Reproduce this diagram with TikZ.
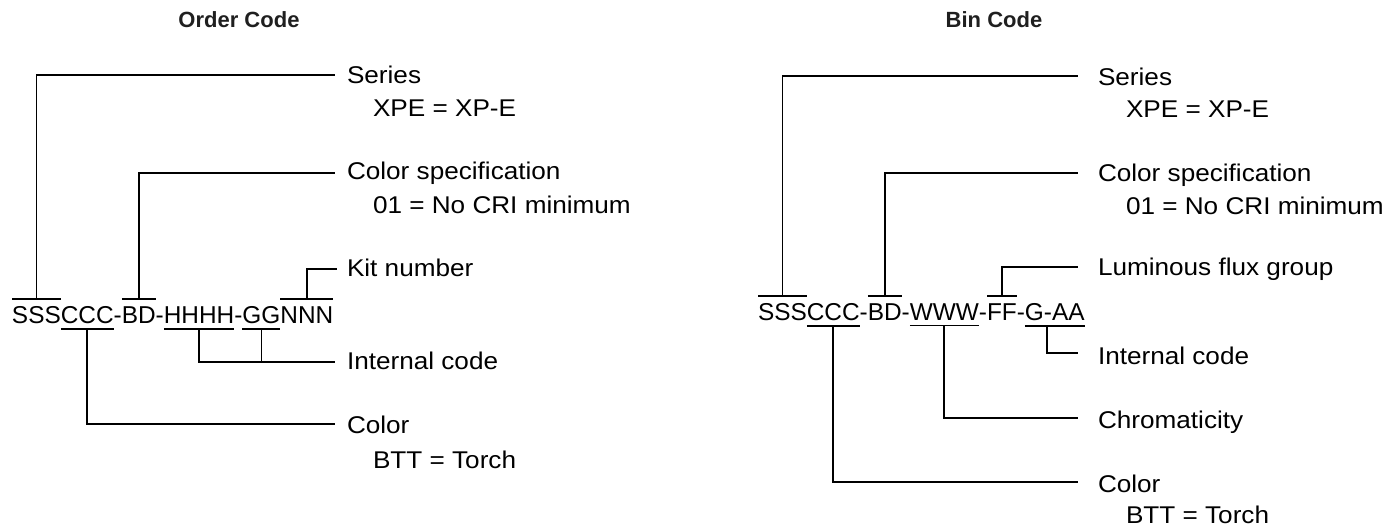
\documentclass[tikz,border=0pt]{standalone}
\usepackage{fontspec}
\setmainfont{Liberation Sans}
\newfontfamily\lblfamily[FakeStretch=1.08]{Liberation Sans}
\usetikzlibrary{calc}
\newcommand{\codefnt}{\fontsize{24.4}{29}\selectfont}
\newcommand{\lblfnt}{\lblfamily\fontsize{24.2}{29}\selectfont}
\begin{document}
\begin{tikzpicture}[x=1pt,y=-1pt,
  codetxt/.style={inner sep=0pt, outer sep=0pt, anchor=base west, font=\codefnt, text=black},
  lbl/.style={inner sep=0pt, outer sep=0pt, anchor=base west, font=\lblfnt, text=black},
  ttl/.style={inner sep=0pt, font=\bfseries\fontsize{22}{26}\selectfont, text={black!88}},
  conn/.style={line width=1.8pt, line cap=butt},
  bar/.style={line width=1.8pt}]
\useasboundingbox (0,0) rectangle (1398,529);

% ---------------- Titles
\node[ttl] (tL) at (239,20) {Order Code};
\node[ttl] (tR) at (994,20) {Bin Code};

% ---------------- Left code
\node[codetxt] (L1) at (12,324) {SSS};
\node[codetxt] (L2) at (L1.base east) {CCC};
\node[codetxt] (L3) at (L2.base east) {-};
\node[codetxt] (L4) at (L3.base east) {BD};
\node[codetxt] (L5) at (L4.base east) {-};
\node[codetxt] (L6) at (L5.base east) {HHHH};
\node[codetxt] (L7) at (L6.base east) {-};
\node[codetxt] (L8) at (L7.base east) {GG};
\node[codetxt] (L9) at (L8.base east) {NNN};

% left labels
\node[lbl] (lSer) at (347,84) {Series};
\node[lbl] (lSerV) at (373,117) {XPE = XP-E};
\node[lbl] (lCS) at (347,180) {Color specification};
\node[lbl] (lCSV) at (373,214) {01 = No CRI minimum};
\node[lbl] (lKit) at (347,277) {Kit number};
\node[lbl] (lInt) at (347,370) {Internal code};
\node[lbl] (lCol) at (347,433) {Color};
\node[lbl] (lColV) at (373,468) {BTT = Torch};

% left connector end points
\coordinate (eSerL) at ([xshift=-12pt,yshift=9pt]lSer.base west);
\coordinate (eCSL)  at ([xshift=-12pt,yshift=7pt]lCS.base west);
\coordinate (eKitL) at ([xshift=-10pt,yshift=8pt]lKit.base west);
\coordinate (eIntL) at ([xshift=-12pt,yshift=8pt]lInt.base west);
\coordinate (eColL) at ([xshift=-12pt,yshift=9pt]lCol.base west);

% left bars (over) and underlines
\draw[bar] ([yshift=8pt]L1.north west) -- ([yshift=8pt]L1.north east);
\draw[bar] ([yshift=8pt]L4.north west) -- ([yshift=8pt]L4.north east);
\draw[bar] ([yshift=8pt]L9.north west) -- ([yshift=8pt]L9.north east);
\draw[bar] ([yshift=-5pt]L2.south west) -- ([yshift=-5pt]L2.south east);
\draw[bar] ([yshift=-5pt]L6.south west) -- ([yshift=-5pt]L6.south east);
\draw[bar] ([yshift=-5pt]L8.south west) -- ([yshift=-5pt]L8.south east);

% left connectors
\coordinate (uL8) at ([yshift=-5pt]L8.south);
\draw[conn] ([yshift=8pt]L1.north) |- (eSerL);
\draw[conn] ([yshift=8pt]L4.north) |- (eCSL);
\draw[conn] ([yshift=8pt]L9.north) |- (eKitL);
\draw[conn] ([yshift=-5pt]L6.south) |- (eIntL);
\draw[conn] (uL8) -- (uL8 |- eIntL);
\draw[conn] ([yshift=-5pt]L2.south) |- (eColL);

% ---------------- Right code
\node[codetxt] (R1) at (758,321) {SSS};
\node[codetxt] (R2) at (R1.base east) {CCC};
\node[codetxt] (R3) at (R2.base east) {-};
\node[codetxt] (R4) at (R3.base east) {BD};
\node[codetxt] (R5) at (R4.base east) {-};
\node[codetxt] (R6) at (R5.base east) {WWW};
\node[codetxt] (R7) at (R6.base east) {-};
\node[codetxt] (R8) at (R7.base east) {FF};
\node[codetxt] (R9) at (R8.base east) {-};
\node[codetxt] (R10) at (R9.base east) {G-AA};

% right labels
\node[lbl] (rSer) at (1098,86) {Series};
\node[lbl] (rSerV) at (1126,118) {XPE = XP-E};
\node[lbl] (rCS) at (1098,181.5) {Color specification};
\node[lbl] (rCSV) at (1126,215) {01 = No CRI minimum};
\node[lbl] (rLum) at (1098,276) {Luminous flux group};
\node[lbl] (rInt) at (1098,364) {Internal code};
\node[lbl] (rChr) at (1098,428) {Chromaticity};
\node[lbl] (rCol) at (1098,492) {Color};
\node[lbl] (rColV) at (1126,523) {BTT = Torch};

% right connector end points
\coordinate (eSerR) at ([xshift=-20pt,yshift=10pt]rSer.base west);
\coordinate (eCSR)  at ([xshift=-20pt,yshift=8.5pt]rCS.base west);
\coordinate (eLumR) at ([xshift=-20pt,yshift=9pt]rLum.base west);
\coordinate (eIntR) at ([xshift=-20pt,yshift=11pt]rInt.base west);
\coordinate (eChrR) at ([xshift=-20pt,yshift=10pt]rChr.base west);
\coordinate (eColR) at ([xshift=-20pt,yshift=10pt]rCol.base west);

% right bars and underlines
\draw[bar] ([yshift=8pt]R1.north west) -- ([yshift=8pt]R1.north east);
\draw[bar] ([yshift=8pt]R4.north west) -- ([yshift=8pt]R4.north east);
\draw[bar] ([yshift=8pt]R8.north west) -- ([yshift=8pt]R8.north east);
\draw[bar] ([yshift=-4.5pt]R2.south west) -- ([yshift=-4.5pt]R2.south east);
\draw[bar] ([yshift=-4.5pt]R6.south west) -- ([yshift=-4.5pt]R6.south east);
\draw[bar] ([yshift=-4.5pt]R10.south west) -- ([yshift=-4.5pt]R10.south east);

% right connectors
\coordinate (gaa) at ($([yshift=-4.5pt]R10.south west)!0.37!([yshift=-4.5pt]R10.south east)$);
\draw[conn] ([yshift=8pt]R1.north) |- (eSerR);
\draw[conn] ([yshift=8pt]R4.north) |- (eCSR);
\draw[conn] ([yshift=8pt]R8.north) |- (eLumR);
\draw[conn] (gaa) |- (eIntR);
\draw[conn] ([yshift=-4.5pt]R6.south) |- (eChrR);
\draw[conn] ([yshift=-4.5pt]R2.south) |- (eColR);
\end{tikzpicture}
\end{document}
